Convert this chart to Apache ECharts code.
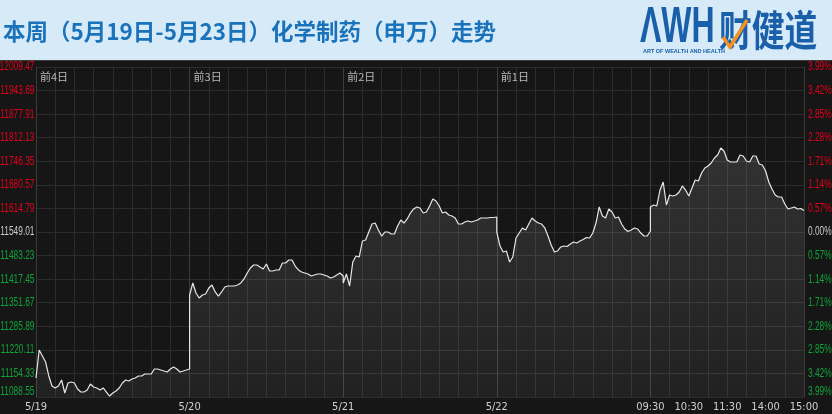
<!DOCTYPE html>
<html>
<head>
<meta charset="utf-8">
<script src="https://cdn.jsdelivr.net/npm/echarts@6/dist/echarts.min.js"></script>
<style>
html,body{margin:0;padding:0;background:#161616;}
#chart{width:832px;height:414px;}
</style>
</head>
<body>
<div id="chart"></div>
<script>
// ---- data (index values, 5-minute samples per trading day) ----
const titleText = '本周（5月19日-5月23日）化学制药（申万）走势';
const dayLabels = ['5/19', '5/20', '5/21', '5/22'];
const timeLabels = ['09:30', '10:30', '11:30', '14:00', '15:00'];
const topLabels = ['前4日', '前3日', '前2日', '前1日'];
const baseValue = 11549.01;     // previous close (0.00%)
const tickStep = 65.78;         // axis step between labels
const axisMin = 11088.55;
const axisMax = 12009.47;
const leftTickLabels = ['11088.55','11154.33','11220.11','11285.89','11351.67','11417.45','11483.23',
  '11549.01','11614.79','11680.57','11746.35','11812.13','11877.91','11943.69','12009.47'];
const rightTickLabels = ['3.99%','3.42%','2.85%','2.28%','1.71%','1.14%','0.57%',
  '0.00%','0.57%','1.14%','1.71%','2.28%','2.85%','3.42%','3.99%'];

const day1 = [11141.6,11219.7,11203.0,11186.2,11147.2,11119.2,11113.7,11119.2,11136.0,11099.7,
  11127.6,11130.4,11127.6,11110.9,11102.5,11102.5,11108.1,11124.8,11116.5,11113.7,
  11108.1,11113.7,11102.5,11091.3,11099.7,11105.3,11113.7,11127.6,11136.0,11133.2,
  11138.8,11141.6,11147.2,11147.2,11152.7,11152.7,11152.7,11166.7,11166.7,11163.9,
  11161.1,11158.3,11166.7,11172.3,11166.7,11158.3,11161.1,11163.9,11166.7];
const day2 = [11373.2,11406.7,11378.8,11364.8,11373.2,11376.0,11392.7,11401.1,11381.6,11370.4,
  11381.6,11395.5,11398.3,11398.3,11398.3,11401.1,11406.7,11417.9,11434.6,11448.5,
  11456.9,11456.9,11451.3,11445.8,11459.7,11440.2,11440.2,11443.0,11443.0,11462.5,
  11462.5,11470.9,11470.9,11454.1,11443.0,11437.4,11434.6,11431.8,11426.2,11429.0,
  11431.8,11431.8,11429.0,11426.2,11420.6,11423.4,11429.0,11434.6,11426.2];
const day3 = [11406.7,11431.8,11398.3,11465.3,11482.0,11479.2,11523.9,11526.7,11549.0,11571.3,
  11574.1,11554.6,11537.8,11549.0,11549.0,11543.4,11543.4,11565.8,11582.5,11574.1,
  11585.3,11602.0,11613.2,11618.8,11616.0,11602.0,11604.8,11621.6,11641.1,11635.5,
  11621.6,11602.0,11604.8,11596.5,11593.7,11588.1,11571.3,11571.3,11576.9,11579.7,
  11576.9,11579.7,11582.5,11588.1,11588.1,11588.1,11589.5,11589.5,11590.9];
const day4 = [11549.0,11509.9,11493.2,11496.0,11465.3,11479.2,11532.3,11546.2,11560.2,11554.6,
  11571.3,11588.1,11579.7,11574.1,11571.3,11560.2,11537.8,11512.7,11493.2,11496.0,
  11507.2,11509.9,11508.5,11515.5,11521.1,11518.3,11523.9,11528.1,11533.7,11532.3,
  11546.2,11574.1,11618.8,11593.7,11588.1,11613.2,11604.8,11588.1,11590.9,11571.3,
  11557.4,11550.4,11554.6,11560.2,11557.4,11546.2,11537.8,11537.8,11551.8];
const day5 = [11618.8,11624.4,11621.6,11666.2,11688.5,11624.4,11652.3,11649.5,11652.3,11660.6,
  11677.4,11666.2,11649.5,11671.8,11694.1,11691.3,11713.7,11727.6,11733.2,11741.6,
  11755.5,11763.9,11783.4,11775.1,11749.9,11744.4,11744.4,11744.4,11763.9,11761.1,
  11747.2,11744.4,11761.1,11761.1,11738.8,11736.0,11719.2,11688.5,11669.0,11652.3,
  11646.7,11646.7,11627.2,11613.2,11616.0,11618.8,11613.2,11614.6,11609.0];

// ---- build series data (x = 5-minute step index, y = change from previous close) ----
const days = [day1, day2, day3, day4, day5];
const stepsPerDay = day1.length - 1;   // 48 five-minute steps per trading day
const lineData = [];
days.forEach((d, k) => d.forEach((v, i) => lineData.push([k * stepsPerDay + i, v - baseValue])));

const FONT = '"Liberation Sans Narrow","DejaVu Sans Condensed","Liberation Sans",sans-serif';
const RED = '#e3001b', GREEN = '#10a43a', MIDC = '#c8c8c8';
const lo = axisMin - baseValue, hi = axisMax - baseValue;

const xLabelMap = {};
dayLabels.forEach((t, k) => xLabelMap[k * stepsPerDay] = t);
timeLabels.forEach((t, j) => xLabelMap[4 * stepsPerDay + j * stepsPerDay / 4] = t);
const topLabelMap = {};
topLabels.forEach((t, k) => topLabelMap[k * stepsPerDay] = t);

const gridColors = [];
for (let i = 0; i < 8; i++) gridColors.push(i === 0 ? '#3c3c3c' : '#2c2c2c');

const baseGraphics = [
  {type: 'rect', left: 0, top: 0, z: -10, shape: {width: 832, height: 60}, style: {fill: '#d7eaf8'}},
  {type: 'rect', left: 0, top: 60, z: -10, shape: {width: 832, height: 1}, style: {fill: '#3a3a3a'}},
  {type: 'text', x: 3, y: 31, style: {text: titleText, fill: '#1a73ba',
    font: 'bold 22.5px "Noto Sans CJK SC"', textVerticalAlign: 'middle'}},
  {type: 'text', x: 640, y: 28, scaleX: 0.64, style: {text: 'ΛWH', fill: '#1a5fa9',
    font: 'bold 50px "Liberation Sans"', textVerticalAlign: 'middle'}},
  {type: 'text', x: 643, y: 51, style: {text: 'ART OF WEALTH AND HEALTH', fill: '#1a5fa9',
    font: 'bold 5.5px "Liberation Sans"', textVerticalAlign: 'middle'}},
  {type: 'text', x: 719, y: 30, scaleX: 0.78, style: {text: '财健道', fill: '#1a5fa9',
    font: 'bold 42px "Noto Sans CJK SC"', textVerticalAlign: 'middle'}},
  {type: 'polyline', z: 10, shape: {points: [[723, 37], [730, 47], [747, 20]]},
    style: {stroke: '#f39222', lineWidth: 3.5, fill: null}}
];

const chart = echarts.init(document.getElementById('chart'), null, {renderer: 'canvas'});
chart.setOption({
  backgroundColor: '#161616',
  animation: false,
  graphic: baseGraphics,
  grid: {left: 36, right: 28, top: 67, bottom: 17, containLabel: false, outerBoundsMode: 'none'},
  xAxis: [{
    type: 'value', min: 0, max: 5 * stepsPerDay, interval: stepsPerDay / 8,
    axisLine: {show: false}, axisTick: {show: false},
    splitLine: {show: true, lineStyle: {color: gridColors, width: 1}},
    axisLabel: {margin: 5, fontSize: 11, fontFamily: FONT, color: '#cfcfcf',
      formatter: v => xLabelMap[Math.round(v)] || ''}
  }, {
    type: 'value', position: 'top', min: 0, max: 5 * stepsPerDay, interval: stepsPerDay,
    axisLine: {show: false}, axisTick: {show: false}, splitLine: {show: false},
    axisLabel: {inside: true, margin: 4, fontSize: 11, fontFamily: '"Noto Sans CJK SC"', color: '#b8b8b8',
      align: 'left', padding: [0, 0, 0, 4], formatter: v => topLabelMap[Math.round(v)] || ''}
  }],
  yAxis: [{
    type: 'value', position: 'left', min: lo, max: hi, interval: tickStep,
    axisLine: {show: false}, axisTick: {show: false}, axisLabel: {show: false},
    splitLine: {show: true, lineStyle: {color: '#2c2c2c', width: 1}}
  }, {
    type: 'value', position: 'right', min: lo, max: hi, interval: tickStep,
    axisLine: {show: false}, axisTick: {show: false}, axisLabel: {show: false}, splitLine: {show: false}
  }],
  series: [{
    type: 'line', xAxisIndex: 0, yAxisIndex: 0, data: lineData,
    showSymbol: false, symbol: 'none',
    lineStyle: {color: '#e6e6e6', width: 1.2},
    areaStyle: {origin: 'start', color: new echarts.graphic.LinearGradient(0, 0, 0, 1, [
      {offset: 0, color: 'rgba(255,255,255,0.17)'},
      {offset: 1, color: 'rgba(255,255,255,0.07)'}])},
    z: 5
  }]
});

// ---- narrow y-axis tick labels, placed through the axis scale ----
const gridRect = chart.getModel().getComponent('grid', 0).coordinateSystem.getRect();
const labelGraphics = [];
leftTickLabels.forEach((txt, idx) => {
  const k = idx - 7;
  const v = k * tickStep;
  let py = chart.convertToPixel({yAxisIndex: 0}, v);
  if (idx === 0) py -= 5;
  const col = k > 0 ? RED : (k < 0 ? GREEN : MIDC);
  labelGraphics.push({type: 'text', x: gridRect.x - 1.5, y: py, scaleX: 0.68,
    style: {text: txt, fill: col, font: '12.3px "Liberation Sans"', textAlign: 'right', textVerticalAlign: 'middle'}});
  labelGraphics.push({type: 'text', x: gridRect.x + gridRect.width + 4, y: py, scaleX: 0.68,
    style: {text: rightTickLabels[idx], fill: col, font: '12.3px "Liberation Sans"', textAlign: 'left', textVerticalAlign: 'middle'}});
});
chart.setOption({graphic: baseGraphics.concat(labelGraphics)});
</script>
</body>
</html>
